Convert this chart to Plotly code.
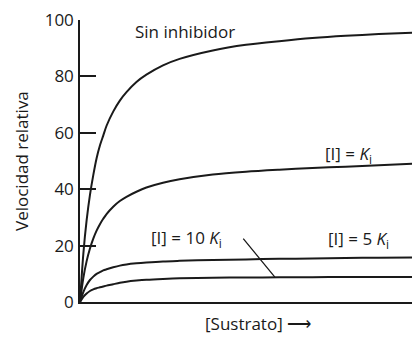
import plotly.graph_objects as go

# substrate axis (arbitrary units, 0-100 across the plot)
sustrato = [0, 1, 2, 3, 4, 5, 6, 7, 8, 10, 12, 14, 17, 20, 25, 30, 40, 50, 60, 70, 80, 90, 100]

# relative velocity
sin_inhibidor = [0, 17, 29, 38, 45, 51, 55.5, 59, 62.5, 67.5, 71.4, 74.4, 78, 80.6, 83.9, 86.2,
                 89.2, 91.2, 92.5, 93.6, 94.4, 95, 95.5]
i_ki = [0, 8.5, 14.5, 19, 22.5, 25.3, 27.6, 29.5, 31.2, 33.8, 35.8, 37.3, 39.1, 40.6, 42.3, 43.5,
        45.2, 46.2, 46.9, 47.5, 48, 48.5, 49]
i_5ki = [0, 3.5, 6, 7.8, 9, 10, 10.6, 11.2, 11.6, 12.3, 12.9, 13.3, 13.7, 14, 14.4, 14.6,
         14.9, 15.1, 15.3, 15.4, 15.6, 15.7, 15.8]
i_10ki = [0, 1.8, 3, 3.9, 4.5, 4.9, 5.2, 5.5, 5.8, 6.3, 6.8, 7.2, 7.6, 7.9, 8.2, 8.4,
          8.6, 8.7, 8.75, 8.8, 8.85, 8.9, 8.9]

y_ticks = [0, 20, 40, 60, 80, 100]

# label texts and where they sit (data units)
labels = [
    ("Sin inhibidor", 31.6, 96),
    ("[I] = <i>K</i><sub>i</sub>", 81, 52.3),
    ("[I] = 10 <i>K</i><sub>i</sub>", 32.2, 22.4),
    ("[I] = 5 <i>K</i><sub>i</sub>", 84, 22.2),
]
# pointer from the "10 Ki" label down to its curve
pointer_to = (58.7, 8.8)
pointer_from = (48.8, 23.0)

ink = "#1a1a1a"
font = "Open Sans"

fig = go.Figure()
for ys in [sin_inhibidor, i_ki, i_5ki, i_10ki]:
    fig.add_trace(go.Scatter(
        x=sustrato, y=ys, mode="lines",
        line=dict(color=ink, width=2, shape="spline", smoothing=0.8),
        hoverinfo="skip", showlegend=False,
    ))

for text, x, y in labels:
    fig.add_annotation(x=x, y=y, text=text, showarrow=False,
                       xanchor="center", yanchor="middle",
                       font=dict(family=font, size=17, color=ink))

fig.add_annotation(x=pointer_to[0], y=pointer_to[1], ax=pointer_from[0], ay=pointer_from[1],
                   axref="x", ayref="y", text="", showarrow=True, arrowhead=0,
                   arrowwidth=1.3, arrowcolor=ink)

fig.add_annotation(xref="paper", yref="paper", x=0, y=0.5, xshift=-59,
                   xanchor="center", yanchor="middle",
                   text="Velocidad relativa", textangle=-90, showarrow=False,
                   font=dict(family=font, size=17, color=ink))
fig.add_annotation(xref="paper", yref="paper", x=0.536, y=0, yshift=-21,
                   xanchor="center", yanchor="middle",
                   text="[Sustrato] ⟶", showarrow=False,
                   font=dict(family=font, size=17, color=ink))

fig.update_xaxes(range=[0, 100], showgrid=False, zeroline=False, showticklabels=False,
                 ticks="", showline=True, linecolor=ink, linewidth=1.5, automargin=False)
fig.update_yaxes(range=[0, 100], showgrid=False, zeroline=False, tickvals=y_ticks,
                 ticks="inside", ticklen=16, tickwidth=1.5, tickcolor=ink,
                 ticklabelstandoff=1, automargin=False,
                 showline=True, linecolor=ink, linewidth=1.5,
                 tickfont=dict(family=font, size=17, color=ink))

fig.update_layout(
    width=412, height=337,
    margin=dict(l=80, r=0, t=20, b=35),
    plot_bgcolor="white", paper_bgcolor="white",
)

# drop the default page margin so the figure sits at the window's corner
fig.write_html("out.html", config={"displayModeBar": False},
               post_script="document.body.style.margin='0';")
